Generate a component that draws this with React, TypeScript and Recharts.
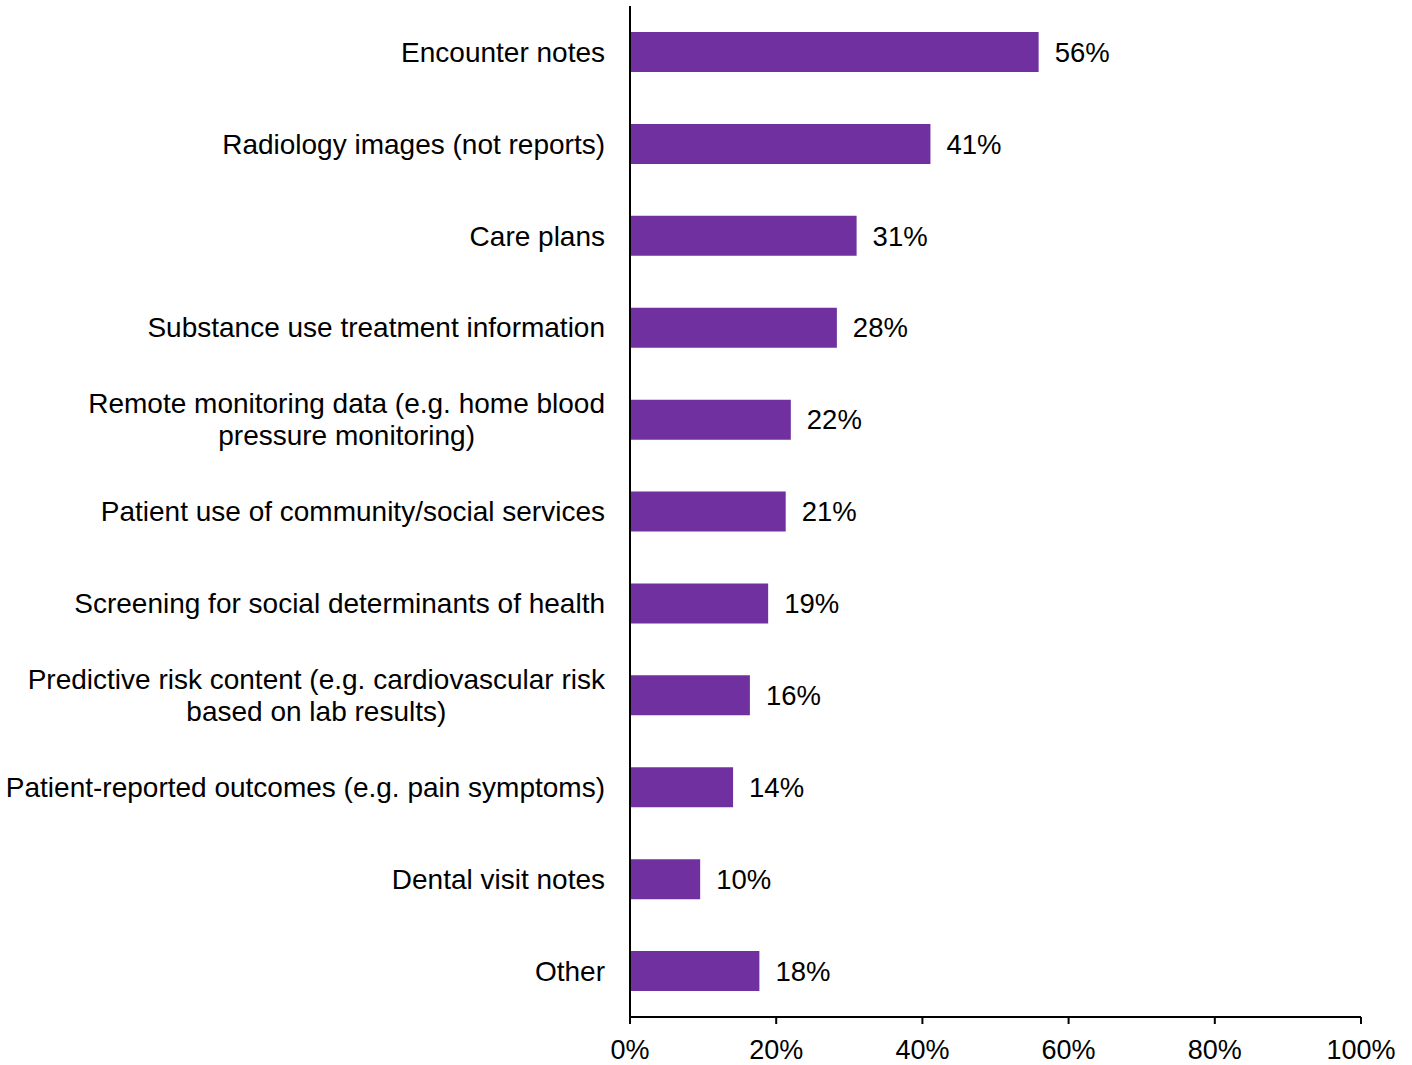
import React from "react";
import { BarChart, Bar, XAxis, YAxis, LabelList } from "recharts";

const categories = [
  "Encounter notes",
  "Radiology images (not reports)",
  "Care plans",
  "Substance use treatment information",
  "Remote monitoring data (e.g. home blood\npressure monitoring)",
  "Patient use of community/social services",
  "Screening for social determinants of health",
  "Predictive risk content (e.g. cardiovascular risk\nbased on lab results)",
  "Patient-reported outcomes (e.g. pain symptoms)",
  "Dental visit notes",
  "Other",
];
const values = [55.9, 41.1, 31.0, 28.3, 22.0, 21.3, 18.9, 16.4, 14.1, 9.6, 17.7];
const xTicks = [0, 20, 40, 60, 80, 100];

const data = categories.map((c, i) => ({ name: c, value: values[i] }));

const FONT = "'Liberation Sans', Arial, sans-serif";
const Y_FONT_SIZE = 28;
const LABEL_FONT_SIZE = 27.5;
const X_FONT_SIZE = 27;

function measure(text: string): number {
  const canvas = document.createElement("canvas");
  const ctx = canvas.getContext("2d");
  if (!ctx) return text.length * 14;
  ctx.font = `${Y_FONT_SIZE}px 'Liberation Sans', Arial, sans-serif`;
  return ctx.measureText(text).width;
}

const YTick = (props: any) => {
  const { x, y, payload } = props;
  const lines: string[] = String(payload.value).split("\n");
  if (lines.length === 1) {
    return (
      <text x={x} y={y} dy="0.35em" textAnchor="end" fontFamily={FONT} fontSize={Y_FONT_SIZE} fill="#000">
        {lines[0]}
      </text>
    );
  }
  const maxW = Math.max(...lines.map(measure));
  const cx = x - maxW / 2;
  const lh = 32;
  const start = y - ((lines.length - 1) * lh) / 2;
  return (
    <text textAnchor="middle" fontFamily={FONT} fontSize={Y_FONT_SIZE} fill="#000">
      {lines.map((l, i) => (
        <tspan key={i} x={cx} y={start + i * lh} dy="0.35em">
          {l}
        </tspan>
      ))}
    </text>
  );
};

export default function App() {
  return (
    <div style={{ position: "absolute", left: 0, top: 0, background: "#fff" }}>
      <BarChart
        width={1412}
        height={1065}
        data={data}
        layout="vertical"
        margin={{ top: 6, right: 51, bottom: 0, left: 0 }}
        barSize={40}
      >
        <XAxis
          type="number"
          domain={[0, 100]}
          ticks={xTicks}
          tickFormatter={(v: number) => `${v}%`}
          height={48}
          tickSize={7}
          tickMargin={16}
          axisLine={{ stroke: "#000", strokeWidth: 2 }}
          tickLine={{ stroke: "#000", strokeWidth: 2 }}
          tick={{ fill: "#000", fontSize: X_FONT_SIZE, fontFamily: FONT }}
          interval={0}
        />
        <YAxis
          type="category"
          dataKey="name"
          width={630}
          tickLine={false}
          tickSize={0}
          tickMargin={25}
          axisLine={{ stroke: "#000", strokeWidth: 2 }}
          tick={<YTick />}
          interval={0}
        />
        <Bar dataKey="value" fill="#7030A0" isAnimationActive={false}>
          <LabelList
            dataKey="value"
            position="right"
            offset={16}
            formatter={(v: number) => `${Math.round(v)}%`}
            style={{ fill: "#000", fontSize: LABEL_FONT_SIZE, fontFamily: FONT }}
          />
        </Bar>
      </BarChart>
    </div>
  );
}
